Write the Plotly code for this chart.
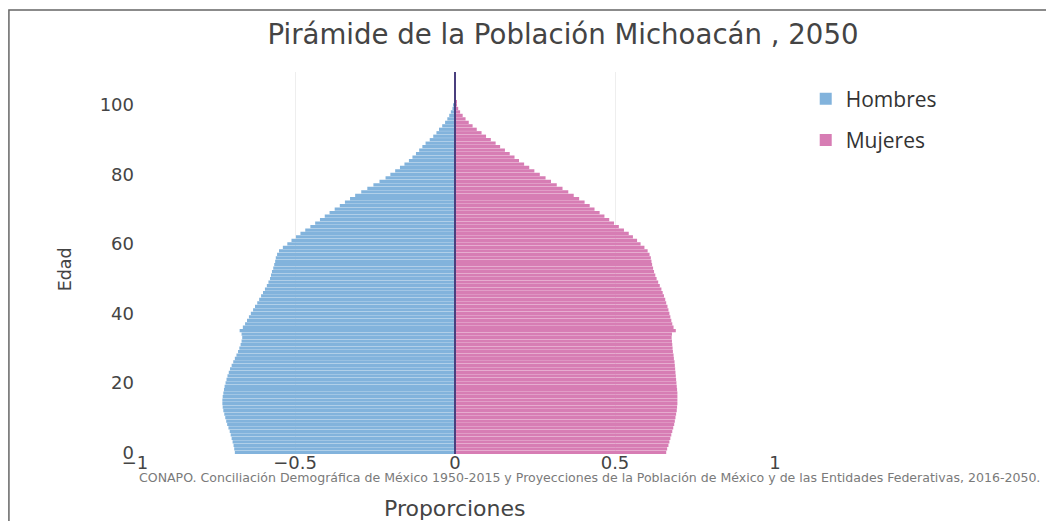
import plotly.graph_objects as go

# Ages 0..109
edades = list(range(110))

# Proportions (men drawn to the left)
hombres = [
    0.688, 0.690, 0.692, 0.695, 0.698, 0.701, 0.704, 0.708, 0.712, 0.715,  # 0-9
    0.718, 0.721, 0.724, 0.726, 0.727, 0.727, 0.726, 0.724, 0.722, 0.720,  # 10-19
    0.717, 0.714, 0.711, 0.707, 0.703, 0.698, 0.693, 0.688, 0.683, 0.678,  # 20-29
    0.674, 0.670, 0.667, 0.665, 0.667, 0.673, 0.663, 0.656, 0.650, 0.644,  # 30-39
    0.638, 0.631, 0.625, 0.618, 0.612, 0.606, 0.600, 0.594, 0.588, 0.583,  # 40-49
    0.578, 0.575, 0.572, 0.568, 0.565, 0.562, 0.560, 0.556, 0.550, 0.538,  # 50-59
    0.524, 0.511, 0.497, 0.483, 0.468, 0.452, 0.437, 0.422, 0.407, 0.392,  # 60-69
    0.376, 0.360, 0.344, 0.328, 0.312, 0.293, 0.274, 0.255, 0.236, 0.217,  # 70-79
    0.202, 0.187, 0.172, 0.158, 0.144, 0.133, 0.122, 0.112, 0.102, 0.092,  # 80-89
    0.079, 0.068, 0.058, 0.050, 0.040, 0.031, 0.024, 0.018, 0.013, 0.008,  # 90-99
    0.005, 0.003, 0.002, 0.0015, 0.001, 0.001, 0.0008, 0.0006, 0.0005, 0.0004,  # 100-109
]

mujeres = [
    0.660, 0.663, 0.667, 0.670, 0.673, 0.676, 0.679, 0.682, 0.685, 0.687,  # 0-9
    0.689, 0.691, 0.693, 0.694, 0.695, 0.695, 0.695, 0.695, 0.694, 0.693,  # 10-19
    0.692, 0.691, 0.690, 0.689, 0.688, 0.687, 0.686, 0.684, 0.683, 0.681,  # 20-29
    0.680, 0.679, 0.678, 0.677, 0.678, 0.690, 0.683, 0.679, 0.676, 0.673,  # 30-39
    0.670, 0.667, 0.664, 0.660, 0.657, 0.653, 0.649, 0.645, 0.640, 0.635,  # 40-49
    0.630, 0.626, 0.622, 0.619, 0.616, 0.614, 0.612, 0.608, 0.602, 0.592,  # 50-59
    0.580, 0.569, 0.556, 0.543, 0.528, 0.512, 0.497, 0.482, 0.467, 0.452,  # 60-69
    0.436, 0.421, 0.405, 0.388, 0.371, 0.354, 0.336, 0.318, 0.300, 0.283,  # 70-79
    0.265, 0.248, 0.232, 0.216, 0.200, 0.186, 0.171, 0.156, 0.141, 0.127,  # 80-89
    0.112, 0.097, 0.083, 0.068, 0.055, 0.043, 0.033, 0.024, 0.016, 0.010,  # 90-99
    0.006, 0.004, 0.003, 0.002, 0.0015, 0.001, 0.0008, 0.0006, 0.0005, 0.0004,  # 100-109
]

x_ticks = [-1, -0.5, 0, 0.5, 1]
y_ticks = [0, 20, 40, 60, 80, 100]

titulo = "Pirámide de la Población Michoacán , 2050"
fuente = ("CONAPO. Conciliación Demográfica de México 1950-2015 y Proyecciones de la "
          "Población de México y de las Entidades Federativas, 2016-2050.")

AZUL = "#82b3dc"
ROSA = "#d77db4"

fig = go.Figure()
fig.add_trace(go.Bar(
    y=edades, x=[-v for v in hombres], orientation="h", name="Hombres",
    marker=dict(color=AZUL, line=dict(width=0)), legendgroup="h",
))
fig.add_trace(go.Bar(
    y=edades, x=mujeres, orientation="h", name="Mujeres",
    marker=dict(color=ROSA, line=dict(width=0)), legendgroup="m",
))

fig.add_shape(type="line", xref="x", yref="paper", x0=0, x1=0, y0=0, y1=1,
              line=dict(color="#4a3f7e", width=2), layer="above")

# outer frame of the picture
fig.add_shape(type="rect", xref="paper", yref="paper",
              x0=-0.197, x1=1.433, y0=-0.2, y1=1.162,
              line=dict(color="#666", width=1.5), layer="above")

fig.add_annotation(text=fuente, xref="paper", yref="paper", x=0.003, y=-0.062,
                   xanchor="left", yanchor="middle", showarrow=False,
                   font=dict(family="DejaVu Sans", size=12.55, color="#7a7a7a"))

# axis titles placed as in the reference
fig.add_annotation(text="Edad", xref="paper", yref="paper", x=-0.109, y=0.484,
                   xanchor="center", yanchor="middle", textangle=-90, showarrow=False,
                   font=dict(family="DejaVu Sans", size=17.5, color="#444"))
fig.add_annotation(text="Proporciones", xref="paper", yref="paper", x=0.5, y=-0.143,
                   xanchor="center", yanchor="middle", showarrow=False,
                   font=dict(family="DejaVu Sans", size=22, color="#444"))

fig.update_layout(
    width=1046, height=513,
    margin=dict(l=127, r=279, t=64, b=67),
    paper_bgcolor="white", plot_bgcolor="white",
    barmode="overlay", bargap=0.06,
    title=dict(text=titulo, x=0.5306, xanchor="center", y=0.949, yanchor="middle",
               font=dict(family="DejaVu Sans", size=27.6, color="#444")),
    font=dict(family="DejaVu Sans", color="#444"),
    legend=dict(x=1.048, xanchor="left", y=0.983, yanchor="top",
                traceorder="grouped", tracegroupgap=11,
                font=dict(family="Open Sans", size=21, color="#333")),
    xaxis=dict(range=[-1, 1], tickvals=x_ticks, showgrid=True, gridcolor="#eeeeee",
               zeroline=False, showline=False, ticks="", ticklabelstandoff=-4,
               tickfont=dict(family="DejaVu Sans", size=18, color="#444"),
               automargin=False),
    yaxis=dict(tickvals=y_ticks, showgrid=False, zeroline=False, showline=False,
               ticks="", tickfont=dict(family="DejaVu Sans", size=18, color="#444"),
               automargin=False),
)

fig.write_html("out.html")
